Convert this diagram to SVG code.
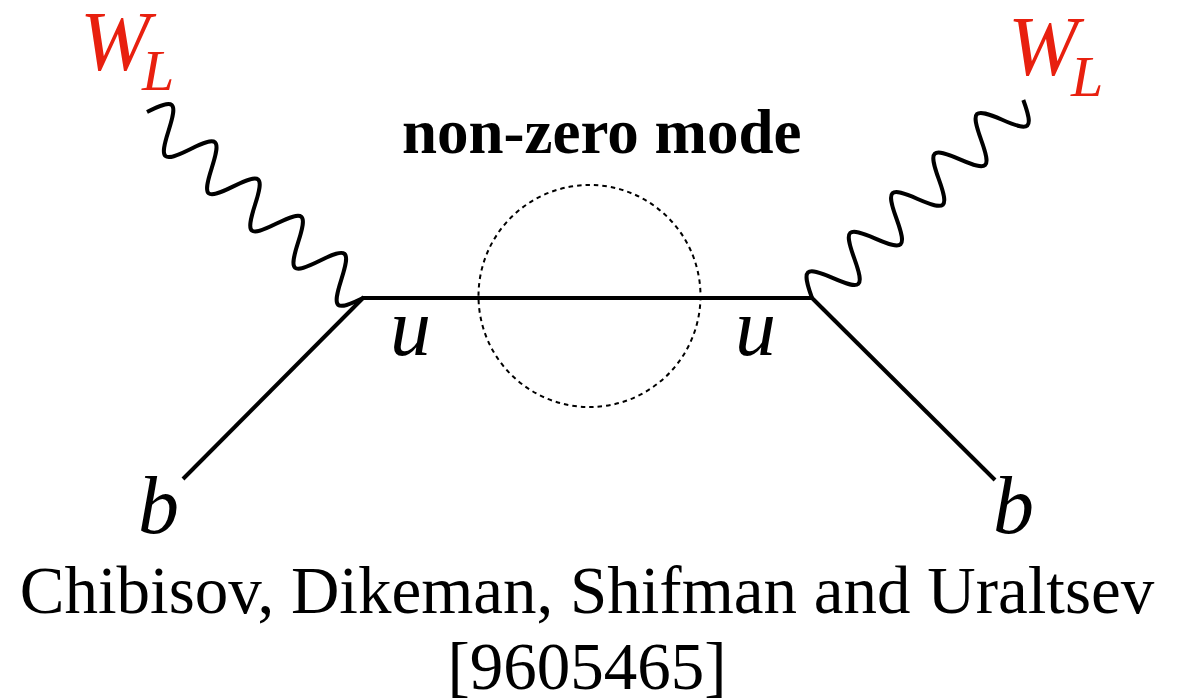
<svg xmlns="http://www.w3.org/2000/svg" width="1184" height="699" viewBox="0 0 1184 699">
<style>
.ln{stroke:#000;stroke-width:4;fill:none;stroke-linecap:butt}
.wv{stroke:#000;stroke-width:4;fill:none;stroke-linecap:butt;stroke-linejoin:round}
.it{font-family:"Liberation Serif","Times New Roman",serif;font-style:italic}
.red{fill:#e8200f}
.rm{font-family:"Liberation Serif","Times New Roman",serif}
</style>
<rect width="1184" height="699" fill="#fff"/>
<g id="connectors">
<line class="ln" x1="363" y1="298" x2="812" y2="298"/>
<line class="ln" x1="364" y1="297" x2="183" y2="479"/>
<line class="ln" x1="811" y1="297" x2="995" y2="480"/>
<path class="wv" transform="translate(147,112) rotate(40.73)" d="M0,0 c12.1,-28.5 16.4,-28.5 28.5,0 s16.4,28.5 28.5,0 s16.4,-28.5 28.5,0 s16.4,28.5 28.5,0 s16.4,-28.5 28.5,0 s16.4,28.5 28.5,0 s16.4,-28.5 28.5,0 s16.4,28.5 28.5,0 s16.4,-28.5 28.5,0 s16.4,28.5 28.5,0"/>
<path class="wv" transform="translate(812,298) rotate(-43.14)" d="M0,0 c12.3,-28.5 16.7,-28.5 28.96,0 s16.7,28.5 28.96,0 s16.7,-28.5 28.96,0 s16.7,28.5 28.96,0 s16.7,-28.5 28.96,0 s16.7,28.5 28.96,0 s16.7,-28.5 28.96,0 s16.7,28.5 28.96,0 s16.7,-28.5 28.96,0 s16.7,28.5 28.96,0"/>
</g>
<g id="loop">
<circle cx="589.5" cy="296" r="111" fill="none" stroke="#000" stroke-width="2" stroke-dasharray="4.5,4"/>
</g>
<g id="wl-left">
<text class="it red" x="80" y="70" font-size="84">W</text>
<text class="it red" x="142" y="90" font-size="58">L</text>
</g>
<g id="wl-right">
<text class="it red" x="1008" y="75" font-size="84">W</text>
<text class="it red" x="1071" y="96" font-size="58">L</text>
</g>
<g id="label-mode">
<text x="402" y="153" font-size="63" font-weight="bold" font-family="Liberation Serif, Times New Roman, serif">non-zero mode</text>
</g>
<g id="u-left"><text class="it" x="390" y="355" font-size="82">u</text></g>
<g id="u-right"><text class="it" x="735" y="355" font-size="82">u</text></g>
<g id="b-left"><text class="it" x="138" y="533" font-size="82">b</text></g>
<g id="b-right"><text class="it" x="993" y="533" font-size="82">b</text></g>
<g id="caption">
<text class="rm" x="587" y="613" font-size="67" text-anchor="middle">Chibisov, Dikeman, Shifman and Uraltsev</text>
<text class="rm" x="587" y="689" font-size="67" text-anchor="middle">[9605465]</text>
</g>
</svg>
